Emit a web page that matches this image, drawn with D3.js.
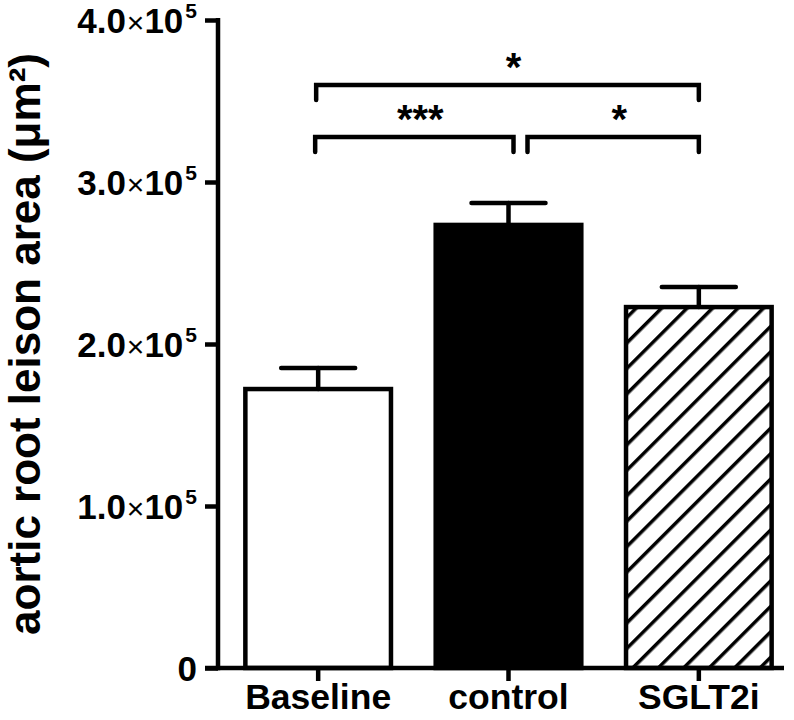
<!DOCTYPE html>
<html>
<head>
<meta charset="utf-8">
<script src="https://cdn.jsdelivr.net/npm/d3@7/dist/d3.min.js"></script>
<style>
  html, body { margin: 0; padding: 0; background: #fff; }
  svg { display: block; }
  text { font-family: "Liberation Sans", Arial, Helvetica, sans-serif; }
</style>
</head>
<body>
<svg id="chart" width="794" height="720"></svg>
<script>
// ---- data ----
const categories = ["Baseline", "control", "SGLT2i"];
const means = [1.722e5, 2.735e5, 2.228e5];
const sems = [0.130e5, 0.135e5, 0.124e5];
const yTicks = [0, 1e5, 2e5, 3e5, 4e5];
const yTickMantissa = ["0", "1.0", "2.0", "3.0", "4.0"];
const yTickExponent = ["", "5", "5", "5", "5"];
const comparisons = [
  { from: "Baseline", to: "control", label: "***" },
  { from: "control", to: "SGLT2i", label: "*" },
  { from: "Baseline", to: "SGLT2i", label: "*" }
];
const yTitle = "aortic root leison area (μm²)";

// ---- layout ----
const W = 794, H = 720;
const axisX = 218, axisY = 668;
const lw = 4.5;
const svg = d3.select("#chart");
svg.append("rect").attr("width", W).attr("height", H).attr("fill", "#fff");

const y = d3.scaleLinear().domain([0, 4e5]).range([axisY, 20]);
const x = d3.scaleBand().domain(categories).range([223, 794]).paddingInner(0.235).paddingOuter(0.1175);

// hatch pattern
const defs = svg.append("defs");
const pat = defs.append("pattern").attr("id", "hatch").attr("patternUnits", "userSpaceOnUse")
  .attr("width", 18).attr("height", 18).attr("patternTransform", "rotate(45)");
pat.append("rect").attr("width", 18).attr("height", 18).attr("fill", "#fff");
pat.append("line").attr("x1", 0).attr("y1", 0).attr("x2", 0).attr("y2", 18)
  .attr("stroke", "#000").attr("stroke-width", 7);

const fills = ["#fff", "#000", "url(#hatch)"];

// bars
const data = categories.map((c, i) => ({ c, m: means[i], s: sems[i], fill: fills[i] }));
svg.append("g").selectAll("rect").data(data).join("rect")
  .attr("x", d => x(d.c))
  .attr("y", d => y(d.m))
  .attr("width", x.bandwidth())
  .attr("height", d => y(0) - y(d.m))
  .attr("fill", d => d.fill)
  .attr("stroke", "#000").attr("stroke-width", lw);

// error bars
const eg = svg.append("g").attr("stroke", "#000").attr("stroke-width", lw).attr("stroke-linecap", "round");
const capW = 74;
data.forEach(d => {
  const cx = x(d.c) + x.bandwidth() / 2;
  eg.append("line").attr("x1", cx).attr("x2", cx).attr("y1", y(d.m)).attr("y2", y(d.m + d.s));
  eg.append("line").attr("x1", cx - capW / 2).attr("x2", cx + capW / 2).attr("y1", y(d.m + d.s)).attr("y2", y(d.m + d.s));
});

// y axis
const yAxis = d3.axisLeft(y).tickValues(yTicks).tickSize(13).tickSizeOuter(0).tickFormat(() => "");
const ya = svg.append("g").attr("transform", `translate(${axisX},0)`).call(yAxis);
ya.select(".domain").attr("stroke-width", lw).attr("d", `M0,${axisY + lw/2}V${y(4e5) - 2}`);
ya.selectAll(".tick line").attr("stroke-width", lw);

// y tick labels
const tl = svg.append("g").attr("font-weight", "bold").attr("font-size", 35).attr("fill", "#000");
yTicks.forEach((v, i) => {
  const t = tl.append("text").attr("x", axisX - 21).attr("y", y(v) + 12.5).attr("text-anchor", "end");
  if (yTickExponent[i] === "") {
    t.append("tspan").text(yTickMantissa[i]);
  } else {
    t.append("tspan").text(yTickMantissa[i]);
    t.append("tspan").attr("font-weight", "normal").attr("font-size", 30).attr("dx", 1).text("×");
    t.append("tspan").text("10");
    t.append("tspan").attr("font-size", 21).attr("dy", -15).attr("dx", 2).text(yTickExponent[i]);
  }
});

// x axis
svg.append("line").attr("x1", axisX - 13).attr("x2", 784).attr("y1", axisY).attr("y2", axisY)
  .attr("stroke", "#000").attr("stroke-width", lw);
const xa = svg.append("g");
categories.forEach(c => {
  const cx = x(c) + x.bandwidth() / 2;
  xa.append("line").attr("x1", cx).attr("x2", cx).attr("y1", axisY).attr("y2", axisY + 13)
    .attr("stroke", "#000").attr("stroke-width", lw);
  xa.append("text").attr("x", cx).attr("y", 709).attr("text-anchor", "middle")
    .attr("font-weight", "bold").attr("font-size", 35.5).text(c);
});

// y title
svg.append("text").attr("transform", `translate(40,${344}) rotate(-90)`)
  .attr("text-anchor", "middle").attr("font-weight", "bold").attr("font-size", 44).text(yTitle);

// significance brackets
const bracketLayout = [
  { yLine: 137, off1: -3, off2: 5 },
  { yLine: 137, off1: 19, off2: 0 },
  { yLine: 85, off1: -2, off2: 0 }
];
const bg = svg.append("g");
comparisons.forEach((cmp, i) => {
  const L = bracketLayout[i];
  const x1 = x(cmp.from) + x.bandwidth() / 2 + L.off1;
  const x2 = x(cmp.to) + x.bandwidth() / 2 + L.off2;
  bg.append("path").attr("d", `M${x1},${L.yLine + 15}V${L.yLine}H${x2}V${L.yLine + 15}`)
    .attr("fill", "none").attr("stroke", "#000").attr("stroke-width", lw).attr("stroke-linecap", "round").attr("stroke-linejoin", "miter");
  bg.append("text").attr("x", (x1 + x2) / 2 + 6).attr("y", L.yLine - 4)
    .attr("text-anchor", "middle").attr("font-size", 40).attr("font-weight", "bold").text(cmp.label);
});
</script>
</body>
</html>
